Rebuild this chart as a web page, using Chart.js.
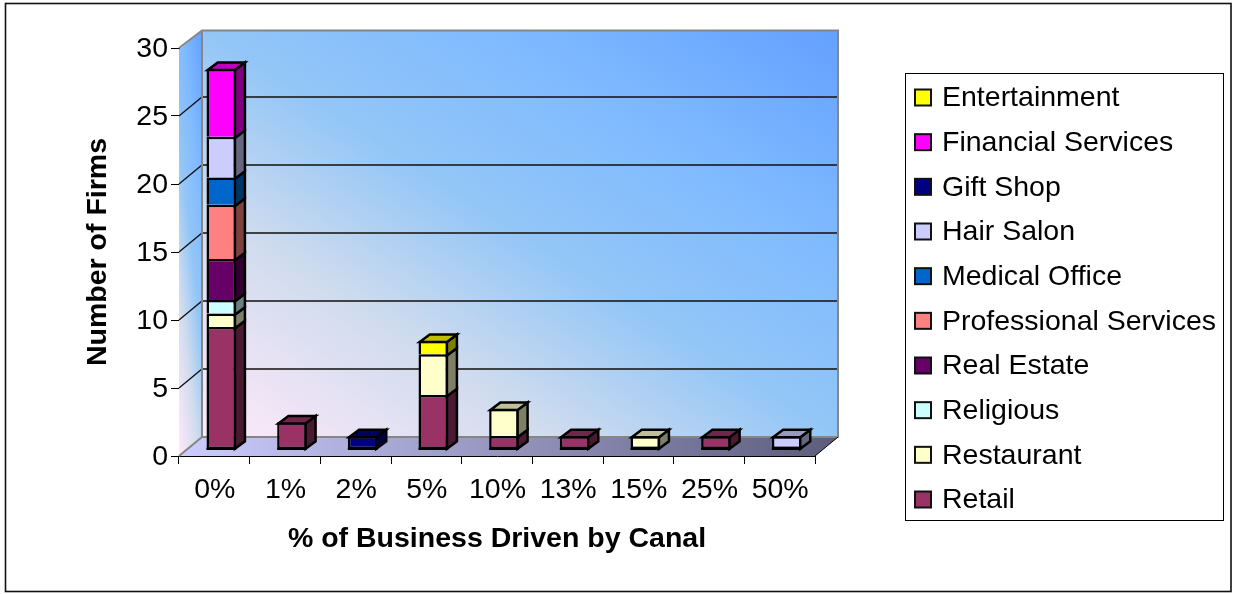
<!DOCTYPE html>
<html><head><meta charset="utf-8">
<style>html,body{margin:0;padding:0;background:#fff}#w{position:relative;width:1233px;height:594px}</style>
<script src="https://cdn.jsdelivr.net/npm/chart.js@4"></script></head>
<body><div id="w"><canvas id="c" width="1233" height="594"></canvas></div>
<script>
const categories=['0%','1%','2%','5%','10%','13%','15%','25%','50%'];
const retail=[9,2,null,4,1,1,null,1,null];
const restaurant=[1,null,null,3,2,null,1,null,null];
const religious=[1,null,null,null,null,null,null,null,null];
const realEstate=[3,null,null,null,null,null,null,null,null];
const professional=[4,null,null,null,null,null,null,null,null];
const medical=[2,null,null,null,null,null,null,null,null];
const hairSalon=[3,null,null,null,null,null,null,null,1];
const giftShop=[null,null,1,null,null,null,null,null,null];
const financial=[5,null,null,null,null,null,null,null,null];
const entertainment=[null,null,null,1,null,null,null,null,null];
const seriesNames=['Retail','Restaurant','Religious','Real Estate','Professional Services','Medical Office','Hair Salon','Gift Shop','Financial Services','Entertainment'];
const seriesValues=[retail,restaurant,religious,realEstate,professional,medical,hairSalon,giftShop,financial,entertainment];
const seriesColors=['#993366','#FFFFCC','#CCFFFF','#660066','#FF8080','#0066CC','#CCCCFF','#000080','#FF00FF','#FFFF00'];
const FONT='"Liberation Sans", Arial, sans-serif';
const FS=28.5;
const WALL={dx:23,dy:-19,topDy:-17.5};
const BAR={ox:7,oy:-6.5,dx:10,dy:-7.5,lw:2.5,foot:1};
function shade(hex,f){const n=parseInt(hex.slice(1),16);return `rgb(${(n>>16)*f|0},${((n>>8)&255)*f|0},${(n&255)*f|0})`;}
function hasBelow(si,i){return seriesValues.slice(0,si).some(v=>v[i]!=null);}
function hasAbove(si,i){return seriesValues.slice(si+1).some(v=>v[i]!=null);}
const STOPS=[[0,'#FFE9FA'],[0.28,'#D0DCEE'],[0.5,'#93C6F7'],[0.72,'#80BBFF'],[1,'#64A0FF']];
function para(ctx,o,ue,ve,a,b){
  ctx.save();
  ctx.transform(ue[0],ue[1],ve[0],ve[1],o[0],o[1]);
  const k=a*a+b*b,g=ctx.createLinearGradient(0,0,a/k,b/k);
  STOPS.forEach(s=>g.addColorStop(s[0],s[1]));
  ctx.fillStyle=g;ctx.fillRect(0,0,1,1);
  ctx.restore();
}
function poly(ctx,pts,fill,stroke,lw){
  ctx.beginPath();pts.forEach((p,i)=>i?ctx.lineTo(p[0],p[1]):ctx.moveTo(p[0],p[1]));ctx.closePath();
  if(fill){ctx.fillStyle=fill;ctx.fill();}
  if(stroke){ctx.strokeStyle=stroke;ctx.lineWidth=lw;ctx.lineJoin='miter';ctx.stroke();}
}
const scene={id:'scene',
  beforeDraw(chart){
    const ctx=chart.ctx;ctx.save();
    ctx.fillStyle='#fff';ctx.fillRect(0,0,1233,594);
    ctx.strokeStyle='#111';ctx.lineWidth=1.6;ctx.strokeRect(5.5,3.5,1225.5,588);
    ctx.restore();
  },
  beforeDatasetsDraw(chart){
    const ctx=chart.ctx,{left:l,right:r,top:t,bottom:b}=chart.chartArea,d=WALL,y=chart.scales.y;
    const xb=l+d.dx,yf=b+d.dy,yc=t+d.topDy;
    ctx.save();
    para(ctx,[l,b],[d.dx,d.dy],[0,yc-yf],0.35,0.65);
    para(ctx,[xb,yf],[r-l,0],[0,yc-yf],0.5,0.5);
    const fg=ctx.createLinearGradient(l,0,r+d.dx,0);
    fg.addColorStop(0,'#CCCCFF');fg.addColorStop(1,'#5C5C7C');
    poly(ctx,[[l,b],[xb,yf],[r+d.dx,yf],[r,b]],fg);
    ctx.strokeStyle='#111';ctx.lineWidth=1.3;
    y.ticks.forEach(tk=>{
      if(tk.value===0||tk.value===30)return;
      const py=y.getPixelForValue(tk.value);
      ctx.beginPath();ctx.moveTo(l,py);ctx.lineTo(xb,py+d.dy);ctx.lineTo(r+d.dx,py+d.dy);ctx.stroke();
    });
    ctx.strokeStyle='#868686';ctx.lineWidth=2;ctx.beginPath();
    ctx.moveTo(l,t);ctx.lineTo(xb,yc);ctx.lineTo(r+d.dx,yc);ctx.lineTo(r+d.dx,yf);ctx.lineTo(xb,yf);ctx.lineTo(xb,yc);
    ctx.moveTo(l,b);ctx.lineTo(xb,yf);ctx.stroke();
    ctx.strokeStyle='#000';ctx.lineWidth=1;ctx.beginPath();
    ctx.moveTo(r,b);ctx.lineTo(r+d.dx,yf);ctx.stroke();
    ctx.restore();
    ctx.save();ctx.translate(BAR.ox,BAR.oy);
  },
  afterDatasetsDraw(chart){
    const ctx=chart.ctx,B=BAR,h=B.lw/2;
    chart.data.datasets.forEach((ds,si)=>{
      const meta=chart.getDatasetMeta(si);
      meta.data.forEach((el,i)=>{
        if(ds.data[i]==null)return;
        const x2=el.x+el.width/2-h,x1=el.x-el.width/2+h,yt=Math.min(el.y,el.base)+h,base=Math.max(el.y,el.base);
        const below=hasBelow(si,i);
        const yb=base+(below?h:B.foot-h);
        if(!below){ctx.fillStyle='#000';ctx.fillRect(el.x-el.width/2,base-h,el.width,h+B.foot);}
        poly(ctx,[[x2,yb],[x2+B.dx,yb+B.dy],[x2+B.dx,yt+B.dy],[x2,yt]],shade(ds.backgroundColor,0.5),'#000',B.lw);
        if(!hasAbove(si,i)) poly(ctx,[[x1,yt],[x1+B.dx,yt+B.dy],[x2+B.dx,yt+B.dy],[x2,yt]],shade(ds.backgroundColor,0.75),'#000',B.lw);
      });
    });
    ctx.restore();
  },
  afterDraw(chart){
    const ctx=chart.ctx;ctx.save();
    ctx.fillStyle='#fff';ctx.fillRect(905.5,73.5,318,447);
    ctx.strokeStyle='#000';ctx.lineWidth=1;ctx.strokeRect(905.5,73.5,318,447);
    ctx.font=FS+'px '+FONT;ctx.textBaseline='middle';ctx.textAlign='left';
    const n=chart.data.datasets.length;
    chart.data.datasets.slice().reverse().forEach((ds,i)=>{
      const cy=97.5+i*(402/(n-1));
      ctx.fillStyle=ds.backgroundColor;ctx.fillRect(915,cy-8,16,16);
      ctx.strokeStyle='#111';ctx.lineWidth=2;ctx.strokeRect(915,cy-8,16,16);
      ctx.fillStyle='#000';ctx.fillText(ds.label,942,cy+1);
    });
    ctx.restore();
  }
};
new Chart(document.getElementById('c'),{
  type:'bar',
  data:{labels:categories,datasets:seriesNames.map((n,si)=>({label:n,data:seriesValues[si],backgroundColor:seriesColors[si],borderColor:'#000',
    borderWidth:c=>({top:BAR.lw,left:BAR.lw,right:BAR.lw,bottom:hasBelow(si,c.dataIndex)?0:BAR.lw}),
    borderSkipped:false,categoryPercentage:1,barPercentage:0.42,clip:false}))},
  plugins:[scene],
  options:{responsive:false,animation:false,
    layout:{padding:{top:48,right:418,bottom:0,left:0}},
    plugins:{legend:{display:false},tooltip:{enabled:false}},
    scales:{
      x:{stacked:true,afterFit(s){s.height=138;},
        grid:{drawOnChartArea:false,drawTicks:true,tickLength:8,color:'#000',lineWidth:1},border:{display:true,color:'#000'},
        ticks:{color:'#000',font:{family:FONT,size:FS},padding:9,maxRotation:0,autoSkip:false,labelOffset:0.5},
        title:{display:true,text:'% of Business Driven by Canal',color:'#000',font:{family:FONT,size:FS,weight:'bold'},padding:{top:0,bottom:38}}},
      y:{stacked:true,min:0,max:30,afterFit(s){s.width=179;},
        grid:{drawOnChartArea:false,drawTicks:true,tickLength:8,color:'#000',lineWidth:1},border:{display:true,color:'#000'},
        ticks:{color:'#000',font:{family:FONT,size:FS},stepSize:5,padding:3,labelOffset:1},
        title:{display:true,text:'Number of Firms',color:'#000',font:{family:FONT,size:FS,weight:'bold'},padding:{top:81,bottom:0}}}
    }}
});
</script></body></html>
